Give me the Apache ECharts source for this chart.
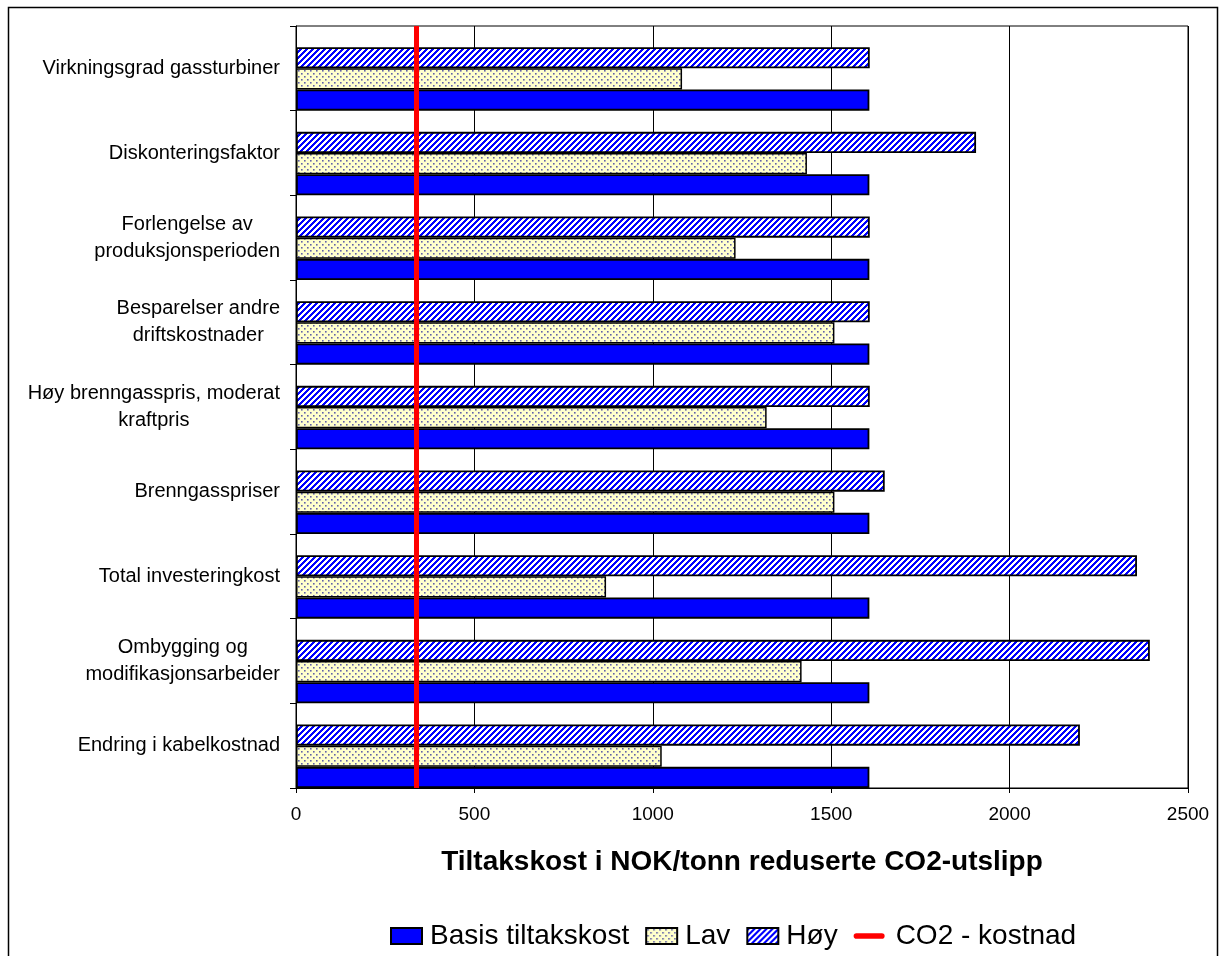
<!DOCTYPE html>
<html>
<head>
<meta charset="utf-8">
<script src="https://cdn.jsdelivr.net/npm/echarts@6/dist/echarts.min.js"></script>
<style>
html,body{margin:0;padding:0;background:#fff;}
#chart{width:1226px;height:956px;}
</style>
</head>
<body>
<div id="chart"></div>
<script>
// Data (top-to-bottom order as shown in chart)
const categories = [
  'Virkningsgrad gassturbiner',
  'Diskonteringsfaktor',
  'Forlengelse av\nproduksjonsperioden',
  'Besparelser andre\ndriftskostnader',
  'Høy brenngasspris, moderat\nkraftpris',
  'Brenngasspriser',
  'Total investeringkost',
  'Ombygging og\nmodifikasjonsarbeider',
  'Endring i kabelkostnad'
];
const basis = [1607, 1607, 1607, 1607, 1607, 1607, 1607, 1607, 1607];
const lav   = [1082, 1432, 1232, 1509, 1319, 1509, 869, 1417, 1025];
const hoy   = [1608, 1906, 1608, 1608, 1608, 1650, 2357, 2393, 2197];
const co2Cost = 338;
const seriesNames = ['Basis tiltakskost', 'Lav', 'Høy', 'CO2 - kostnad'];
const xTicks = [0, 500, 1000, 1500, 2000, 2500];

// patterns
function makeDots() {
  const c = document.createElement('canvas');
  c.width = 6; c.height = 6;
  const g = c.getContext('2d');
  g.fillStyle = '#FFFFCC'; g.fillRect(0, 0, 6, 6);
  g.fillStyle = '#6060A8';
  g.fillRect(1, 1, 1.6, 1.6);
  g.fillRect(4, 4, 1.6, 1.6);
  return c;
}
function makeStripes() {
  const c = document.createElement('canvas');
  const n = 6;
  c.width = n; c.height = n;
  const g = c.getContext('2d');
  const img = g.createImageData(n, n);
  for (let y = 0; y < n; y++) {
    for (let x = 0; x < n; x++) {
      const i = (y * n + x) * 4;
      const blue = ((x + y) % n) < 3;
      img.data[i] = blue ? 0 : 255;
      img.data[i + 1] = blue ? 0 : 255;
      img.data[i + 2] = 255;
      img.data[i + 3] = 255;
    }
  }
  g.putImageData(img, 0, 0);
  return c;
}
const dotPattern = { image: makeDots(), repeat: 'repeat' };
const stripePattern = { image: makeStripes(), repeat: 'repeat' };

const FONT = '"Liberation Sans", Arial, sans-serif';
const rev = a => a.slice().reverse();

const chart = echarts.init(document.getElementById('chart'));
const option = {
  backgroundColor: '#fff',
  animation: false,
  graphic: [{
    type: 'rect', shape: { x: 8.5, y: 7.5, width: 1209, height: 960 },
    style: { fill: 'none', stroke: '#000', lineWidth: 1.5 }, silent: true, z: -1
  }],
  grid: { left: 296, right: 38, top: 26, bottom: 168, show: true, borderColor: '#000', borderWidth: 1, backgroundColor: 'transparent' },
  legend: {
    left: 385, top: 917,
    itemWidth: 31, itemHeight: 16, itemGap: 16,
    symbolKeepAspect: true,
    textStyle: { fontFamily: FONT, fontSize: 28, color: '#000', padding: [0, 0, 0, 3] },
    data: [
      { name: seriesNames[0], icon: 'rect' },
      { name: seriesNames[1], icon: 'rect' },
      { name: seriesNames[2], icon: 'rect' },
      { name: seriesNames[3], icon: 'path://M4,0 L40,0 A4,4 0 0 1 40,8 L4,8 A4,4 0 0 1 4,0 Z',
        itemStyle: { color: '#FF0000', borderWidth: 0 },
        textStyle: { padding: [0, 0, 0, 6] } }
    ]
  },
  xAxis: {
    type: 'value', min: xTicks[0], max: xTicks[xTicks.length - 1], interval: 500,
    name: 'Tiltakskost i NOK/tonn reduserte CO2-utslipp',
    nameLocation: 'middle', nameGap: 60,
    nameTextStyle: { fontFamily: FONT, fontSize: 28, fontWeight: 'bold', color: '#000' },
    axisLine: { show: true, lineStyle: { color: '#000', width: 1 } },
    axisTick: { show: true, length: 5, lineStyle: { color: '#000' } },
    axisLabel: { fontFamily: FONT, fontSize: 19, color: '#000', margin: 17, formatter: v => String(v) },
    splitLine: { show: true, lineStyle: { color: '#000', width: 1 } }
  },
  yAxis: {
    type: 'category', data: rev(categories),
    axisLine: { show: true, lineStyle: { color: '#000', width: 1 } },
    axisTick: { show: true, length: 6, lineStyle: { color: '#000' } },
    axisLabel: {
      fontFamily: FONT, fontSize: 20, color: '#000', margin: 16, align: 'right',
      lineHeight: 27,
      formatter: v => v.split('\n').map(l => '{c|' + l + '}').join('\n'),
      rich: { c: { align: 'center', fontFamily: FONT, fontSize: 20, color: '#000', lineHeight: 27 } }
    },
    splitLine: { show: false }
  },
  series: [
    {
      name: 'spacer', type: 'bar', data: [],
      barCategoryGap: '0%', barGap: '0%'
    },
    {
      name: seriesNames[2], type: 'bar', data: rev(hoy),
      barCategoryGap: '0%', barGap: '0%',
      itemStyle: { color: stripePattern, borderColor: '#000', borderWidth: 1.8 }
    },
    {
      name: seriesNames[1], type: 'bar', data: rev(lav),
      barCategoryGap: '0%', barGap: '0%',
      itemStyle: { color: dotPattern, borderColor: '#000', borderWidth: 1.5 }
    },
    {
      name: seriesNames[0], type: 'bar', data: rev(basis),
      barCategoryGap: '0%', barGap: '0%',
      itemStyle: { color: '#0000FF', borderColor: '#000', borderWidth: 1.8 }
    },
    {
      name: seriesNames[3], type: 'line', data: [], symbol: 'none',
      lineStyle: { color: '#FF0000', width: 5 },
      itemStyle: { color: '#FF0000' },
      markLine: {
        silent: true, symbol: ['none', 'none'], label: { show: false },
        lineStyle: { color: '#FF0000', width: 5, type: 'solid' },
        data: [{ xAxis: co2Cost }]
      },
      z: 10
    }
  ]
};
chart.setOption(option);
</script>
</body>
</html>
